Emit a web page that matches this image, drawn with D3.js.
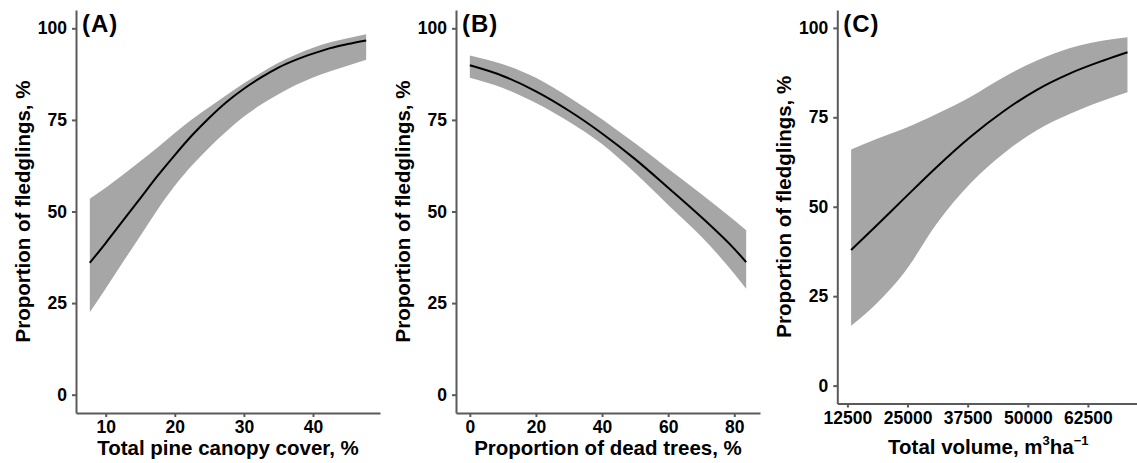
<!DOCTYPE html>
<html>
<head>
<meta charset="utf-8">
<script src="https://cdn.jsdelivr.net/npm/d3@7"></script>
<style>
  body { margin: 0; background: #fff; }
  svg { display: block; }
  .tick text { font-family: "Liberation Sans", Arial, sans-serif; font-weight: bold; font-size: 17.5px; fill: #000; }
  .tick line, .domain { stroke: #5a5a5a; stroke-width: 2px; }
  .title { font-family: "Liberation Sans", Arial, sans-serif; font-weight: bold; font-size: 20.5px; fill: #000; }
  .tag { font-family: "Liberation Sans", Arial, sans-serif; font-weight: bold; font-size: 24px; letter-spacing: 1px; fill: #000; }
</style>
</head>
<body>
<script>
// (A) pine canopy cover
const canopyX = [7.7, 10, 12.5, 15, 17.5, 20, 22.5, 25, 27.5, 30, 32.5, 35, 37.5, 40, 42.5, 45, 47.7]
const canopyFit = [36.0, 41.4, 47.5, 53.6, 59.7, 65.4, 70.8, 75.6, 79.9, 83.5, 86.6, 89.3, 91.4, 93.1, 94.6, 95.7, 96.7]
const canopyHi = [53.5, 56.5, 60.0, 63.7, 67.5, 71.4, 75.2, 78.5, 81.8, 85.0, 87.9, 90.6, 92.8, 94.7, 96.2, 97.3, 98.4]
const canopyLo = [22.5, 29.0, 36.2, 43.3, 50.5, 57.0, 62.6, 67.5, 71.9, 75.9, 79.2, 82.0, 84.5, 86.6, 88.3, 89.8, 91.4]

// (B) dead trees
const deadX = [0, 10, 20, 30, 40, 50, 60, 70, 80, 83.6]
const deadFit = [89.9, 87.0, 82.8, 77.5, 71.3, 64.3, 56.5, 48.5, 39.8, 36.2]
const deadHi = [92.6, 90.2, 86.5, 81.2, 75.2, 68.6, 61.7, 54.8, 47.6, 44.9]
const deadLo = [86.5, 83.7, 79.6, 74.5, 68.4, 60.5, 51.8, 43.2, 33.0, 28.9]

// (C) total volume
const volX = [13270, 18670, 24210, 31130, 38040, 44970, 51890, 58800, 65740, 70720]
const volFit = [37.9, 44.9, 52.2, 61.2, 69.5, 76.7, 82.7, 87.3, 90.9, 93.2]
const volHi = [66.0, 69.0, 71.8, 76.0, 80.7, 86.2, 90.9, 94.4, 96.5, 97.4]
const volLo = [16.7, 23.1, 31.4, 45.4, 56.5, 64.9, 71.4, 76.0, 79.7, 82.0]

const yTicks = [0, 25, 50, 75, 100]
const canopyTicks = [10, 20, 30, 40]
const deadTicks = [0, 20, 40, 60, 80]
const volTicks = [12500, 25000, 37500, 50000, 62500]

const W = 1137, H = 463

const svg = d3.select("body").append("svg")
  .attr("width", W)
  .attr("height", H)

svg.append("rect").attr("width", W).attr("height", H).attr("fill", "#fff")

const panels = [
  { tag: "(A)", xs: canopyX, fit: canopyFit, hi: canopyHi, lo: canopyLo, ticks: canopyTicks,
    left: 76, top: 10, bottom: 413, xTitle: "Total pine canopy cover, %" },
  { tag: "(B)", xs: deadX, fit: deadFit, hi: deadHi, lo: deadLo, ticks: deadTicks,
    left: 456, top: 10, bottom: 413, xTitle: "Proportion of dead trees, %" },
  { tag: "(C)", xs: volX, fit: volFit, hi: volHi, lo: volLo, ticks: volTicks,
    left: 837.3, top: 10, bottom: 403.5, xTitle: null }
]
const panelW = 304

panels.forEach(p => {
  // ggplot style 5% expansion
  let ext = d3.extent(p.xs)
  let pad = (ext[1] - ext[0]) * 0.05
  let x = d3.scaleLinear().domain([ext[0] - pad, ext[1] + pad]).range([p.left, p.left + panelW])
  let y = d3.scaleLinear().domain([-5, 105]).range([p.bottom, p.top])

  let rows = p.xs.map((v, i) => ({ x: v, fit: p.fit[i], hi: p.hi[i], lo: p.lo[i] }))

  let area = d3.area()
    .x(d => x(d.x))
    .y0(d => y(d.lo))
    .y1(d => y(d.hi))
    .curve(d3.curveMonotoneX)

  let line = d3.line()
    .x(d => x(d.x))
    .y(d => y(d.fit))
    .curve(d3.curveMonotoneX)

  svg.append("path").datum(rows).attr("d", area).attr("fill", "#a6a6a6")
  svg.append("path").datum(rows).attr("d", line)
    .attr("fill", "none").attr("stroke", "#000").attr("stroke-width", 2)

  svg.append("g")
    .attr("transform", "translate(" + p.left + ",0)")
    .call(d3.axisLeft(y).tickValues(yTicks).tickSize(4).tickPadding(5).tickSizeOuter(0))

  svg.append("g")
    .attr("transform", "translate(0," + p.bottom + ")")
    .call(d3.axisBottom(x).tickValues(p.ticks).tickFormat(d3.format("d")).tickSize(4).tickPadding(4).tickSizeOuter(0))

  svg.append("text").attr("class", "tag")
    .attr("x", p.left + 6).attr("y", 32)
    .text(p.tag)

  svg.append("text").attr("class", "title")
    .attr("transform", "translate(" + (p.left - 46.5) + "," + ((p.top + p.bottom) / 2) + ") rotate(-90)")
    .attr("text-anchor", "middle")
    .text("Proportion of fledglings, %")

  let cx = p.left + panelW / 2
  if (p.xTitle) {
    svg.append("text").attr("class", "title")
      .attr("x", cx).attr("y", 455)
      .attr("text-anchor", "middle")
      .text(p.xTitle)
  } else {
    let t = svg.append("text").attr("class", "title")
      .attr("x", cx - 1).attr("y", 453.5)
      .attr("text-anchor", "middle")
    t.append("tspan").text("Total volume, m")
    t.append("tspan").attr("dy", -9).style("font-size", "13px").text("3")
    t.append("tspan").attr("dy", 9).text("ha")
    t.append("tspan").attr("dy", -9).style("font-size", "13px").text("\u22121")
  }
})
</script>
</body>
</html>
